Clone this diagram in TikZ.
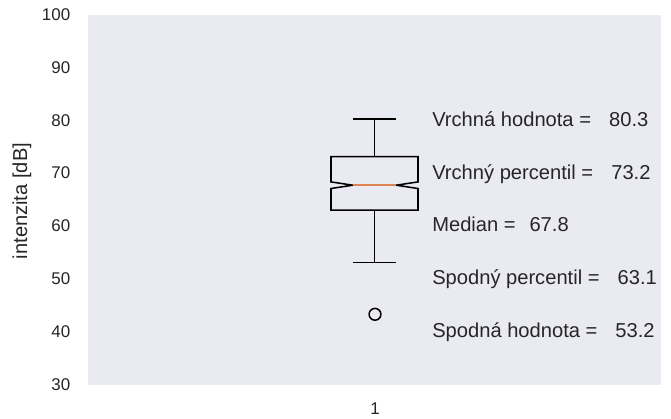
\documentclass[tikz,border=0pt]{standalone}
\usepackage{fontspec}
\setmainfont{Liberation Sans}
\definecolor{bgc}{HTML}{EAEAF2}
\definecolor{txtc}{HTML}{262626}
\definecolor{medc}{HTML}{DD8452}
\begin{document}
\begin{tikzpicture}[x=0.72pt,y=-0.72pt,
  boxline/.style={draw=black, line width=1.1pt},
  medline/.style={draw=medc, line width=1.1pt},
  lbl/.style={anchor=base west, inner sep=0pt, text=txtc, font=\fontsize{14.5}{17}\selectfont},
  ticklbl/.style={anchor=east, inner sep=0pt, text=txtc, font=\fontsize{12.2}{14}\selectfont},
  axlbl/.style={inner sep=0pt, text=txtc, font=\fontsize{14.5}{17}\selectfont}]
\useasboundingbox (0,0) rectangle (671,418);
\fill[bgc] (88,15) rectangle (661,385);
% y tick labels
\node[ticklbl] (t100) at (70.5,14.5) {100};
\node[ticklbl] (t90) at (70.5,67.36) {90};
\node[ticklbl] (t80) at (70.5,120.21) {80};
\node[ticklbl] (t70) at (70.5,173.07) {70};
\node[ticklbl] (t60) at (70.5,225.93) {60};
\node[ticklbl] (t50) at (70.5,278.79) {50};
\node[ticklbl] (t40) at (70.5,331.64) {40};
\node[ticklbl] (t30) at (70.5,384.5) {30};
\node[ticklbl, anchor=north] (tx1) at (375,402.5) {1};
\node[axlbl, rotate=90] (ylab) at (22,201) {intenzita [dB]};
% box plot
\coordinate (qt) at (374.5,156.66);
\coordinate (qb) at (374.5,210.04);
\coordinate (wt) at (374.5,119.13);
\coordinate (wb) at (374.5,262.37);
\draw[boxline] (331,156.66) -- (418,156.66) -- (418,181.9) -- (396.25,185.2) -- (418,188.5)
  -- (418,210.04) -- (331,210.04) -- (331,188.5) -- (352.75,185.2) -- (331,181.9) -- cycle;
\draw[medline] (352.75,185.2) -- (396.25,185.2);
\draw[boxline] (qt) -- (wt);
\draw[boxline] (qb) -- (wb);
\draw[boxline] (352.75,119.13) -- (396.25,119.13);
\draw[boxline] (352.75,262.37) -- (396.25,262.37);
\node[draw=black, line width=1.1pt, circle, minimum size=8.5pt, inner sep=0pt] (out) at (375,314.3) {};
% annotations
\node[lbl] (l1) at (432,126.2) {Vrchná hodnota =\hspace{13pt}80.3};
\node[lbl] (l2) at (432,179.1) {Vrchný percentil =\hspace{13pt}73.2};
\node[lbl] (l3) at (432,231.9) {Median =\hspace{10pt}67.8};
\node[lbl] (l4) at (432,284.8) {Spodný percentil =\hspace{13pt}63.1};
\node[lbl] (l5) at (432,337.6) {Spodná hodnota =\hspace{13pt}53.2};
\end{tikzpicture}
\end{document}
